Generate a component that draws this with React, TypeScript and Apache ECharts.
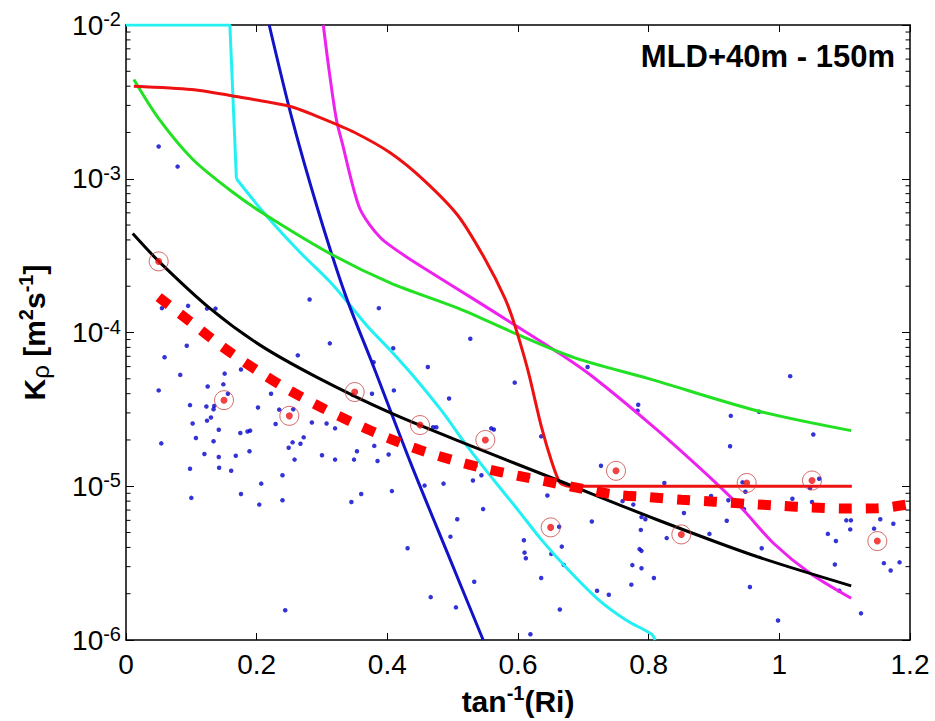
import React, { useEffect, useRef } from "react";
import * as echarts from "echarts";

const FONT = "'Liberation Sans', Arial, sans-serif";

// x tick values and labels (tan^-1(Ri))
const xMin = 0;
const xMax = 1.2;
const xStep = 0.2;
// y decades (log10 K)
const yMinK = 1e-6;
const yMaxK = 1e-2;
const minorMultipliers = [2, 3, 4, 5, 6, 7, 8, 9];
const minorDecades = [1e-6, 1e-5, 1e-4, 1e-3];

// individual observations (blue dots): [tan^-1(Ri), K_rho]
const obsPoints: [number, number][] = [
  [0.050, 1.62e-3], [0.079, 1.20e-3], [0.281, 1.64e-4], [0.387, 1.44e-4], [0.055, 1.44e-4],
  [0.095, 1.49e-4], [0.124, 1.43e-4], [0.137, 1.43e-4], [0.312, 8.5e-5], [0.093, 8.2e-5],
  [0.059, 6.9e-5], [0.263, 7.1e-5], [0.379, 6.4e-5], [0.083, 5.3e-5], [0.151, 5.4e-5],
  [0.176, 5.75e-5],
  [0.050, 4.2e-5], [0.125, 4.45e-5], [0.149, 4.6e-5], [0.156, 4.0e-5], [0.098, 3.37e-5],
  [0.123, 3.3e-5], [0.135, 3.33e-5], [0.134, 3.17e-5], [0.130, 2.8e-5], [0.124, 2.67e-5],
  [0.102, 2.56e-5], [0.142, 2.33e-5], [0.054, 1.9e-5], [0.107, 2.06e-5], [0.134, 1.96e-5],
  [0.175, 2.22e-5], [0.186, 2.27e-5], [0.190, 2.3e-5], [0.189, 1.69e-5], [0.120, 1.62e-5],
  [0.142, 1.55e-5], [0.168, 1.58e-5], [0.098, 1.3e-5], [0.1425, 1.32e-5], [0.161, 1.26e-5],
  [0.100, 8.4e-6], [0.176, 8.9e-6], [0.207, 1.04e-5], [0.204, 7.6e-6], [0.202, 3.25e-5],
  [0.222, 4.0e-5], [0.2345, 3.15e-5], [0.229, 2.54e-5], [0.256, 3.17e-5], [0.255, 1.93e-5],
  [0.249, 1.78e-5], [0.267, 1.89e-5], [0.272, 2.08e-5], [0.258, 1.49e-5], [0.2395, 1.18e-5],
  [0.2395, 8.1e-6], [0.2437, 1.56e-6], [0.2845, 2.6e-5], [0.307, 2.56e-5], [0.320, 2.38e-5],
  [0.300, 1.59e-5], [0.320, 1.49e-5], [0.349, 1.49e-5], [0.3535, 1.69e-5], [0.380, 1.83e-5],
  [0.385, 1.46e-5], [0.402, 1.61e-5], [0.345, 7.9e-6], [0.360, 8.9e-6], [0.3765, 4.0e-5],
  [0.347, 3.93e-5], [0.407, 9.3e-6],
  [0.527, 9.1e-5], [0.409, 7.9e-5], [0.462, 5.96e-5], [0.7065, 5.96e-5],
  [0.595, 4.72e-5], [0.410, 4.2e-5], [0.4945, 3.72e-5], [0.470, 2.42e-5], [0.475, 2.42e-5],
  [0.559, 2.38e-5], [0.563, 2.34e-5], [0.6355, 2.11e-5], [0.784, 3.39e-5], [0.783, 3.1e-5],
  [0.727, 1.36e-5], [0.535, 1.36e-5], [0.544, 1.18e-5], [0.531, 1.09e-5], [0.6156, 1.15e-5],
  [0.645, 8.7e-6], [0.457, 1.01e-5], [0.486, 1.04e-5], [0.760, 8.0e-6], [0.7765, 7.6e-6],
  [0.5466, 7.1e-6], [0.507, 6.1e-6], [0.4966, 4.7e-6], [0.431, 3.95e-6], [0.713, 5.9e-6],
  [0.663, 5.45e-6], [0.609, 4.45e-6], [0.610, 3.7e-6], [0.612, 3.4e-6], [0.667, 4.05e-6],
  [0.651, 3.63e-6], [0.670, 3.08e-6], [0.789, 6.3e-6], [0.795, 6.1e-6], [0.788, 5.2e-6],
  [0.786, 3.9e-6], [0.789, 3.8e-6], [0.775, 3.07e-6], [0.789, 2.93e-6], [0.808, 2.53e-6],
  [0.7735, 2.29e-6], [0.6355, 2.53e-6], [0.721, 2.09e-6], [0.739, 1.97e-6], [0.533, 2.39e-6],
  [0.4664, 1.9e-6], [0.505, 1.63e-6], [0.664, 1.58e-6], [0.619, 1.09e-6],
  [1.0166, 5.2e-5], [0.9257, 2.87e-5], [0.969, 3.05e-5], [1.052, 2.17e-5], [0.9246, 1.82e-5],
  [0.824, 1.05e-5], [0.9436, 1.06e-5], [0.948, 9.2e-6], [1.061, 1.12e-5], [1.047, 9.75e-6],
  [0.8955, 8.65e-6], [0.922, 8.1e-6], [1.020, 8.3e-6], [1.050, 7.9e-6], [0.946, 7.1e-6],
  [0.854, 6.7e-6], [0.9195, 5.96e-6], [1.1025, 6.0e-6], [1.1096, 6.0e-6], [1.1085, 5.24e-6],
  [0.8276, 4.6e-6], [0.893, 4.9e-6], [1.0743, 4.9e-6], [1.0866, 4.4e-6], [0.973, 3.95e-6],
  [1.085, 3.1e-6], [1.1545, 6.1e-6], [1.145, 5.3e-6], [1.1745, 5.7e-6], [1.160, 3.16e-6],
  [1.1704, 2.83e-6], [1.184, 3.2e-6], [0.955, 2.21e-6], [1.0917, 2.09e-6], [1.125, 1.49e-6],
  [0.998, 1.34e-6],
];

// bin-averaged values (circled red points)
const binX = [0.05, 0.15, 0.25, 0.35, 0.45, 0.55, 0.65, 0.75, 0.85, 0.95, 1.05, 1.15];
const binK = [2.9e-4, 3.63e-5, 2.87e-5, 4.1e-5, 2.5e-5, 2.0e-5, 5.4e-6, 1.26e-5, 4.86e-6, 1.05e-5, 1.09e-5, 4.4e-6];

// cyan parameterisation (step part + curve)
const cyanStepX = [0.0, 0.159, 0.169];
const cyanStepK = [1e-2, 1e-2, 1e-3];
const cyanX = [0.169, 0.2146, 0.2656, 0.3167, 0.3678, 0.406, 0.442, 0.483, 0.5236, 0.559, 0.600, 0.636, 0.677, 0.723, 0.764, 0.8046, 0.81];
const cyanK = [1e-3, 5.77e-4, 3.35e-4, 2.04e-4, 1.12e-4, 7.55e-5, 5.08e-5, 3.10e-5, 1.79e-5, 1.15e-5, 7.0e-6, 4.48e-6, 2.86e-6, 1.83e-6, 1.36e-6, 1.09e-6, 1.0e-6];

// blue parameterisation
const blueX = [0.2192, 0.2544, 0.2942, 0.3355, 0.3784, 0.4350, 0.4962, 0.5467];
const blueK = [1e-2, 2.43e-3, 6.19e-4, 1.77e-4, 6.08e-5, 1.44e-5, 3.33e-6, 1.0e-6];

// magenta parameterisation
const magentaX = [0.302, 0.311, 0.322, 0.332, 0.347, 0.358, 0.373, 0.39, 0.406, 0.43, 0.457, 0.534, 0.595, 0.662, 0.713, 0.812, 0.904, 0.945, 0.991, 1.047, 1.110];
const magentaK = [1e-2, 5.01e-3, 2.43e-3, 1.64e-3, 9.02e-4, 6.38e-4, 5.01e-4, 4.12e-4, 3.63e-4, 3.09e-4, 2.61e-4, 1.63e-4, 1.12e-4, 7.38e-5, 5.21e-5, 2.34e-5, 1.04e-5, 7.0e-6, 4.26e-6, 2.72e-6, 1.87e-6];

// green parameterisation
const greenX = [0.012, 0.051, 0.102, 0.1635, 0.215, 0.317, 0.406, 0.508, 0.600, 0.687, 0.80, 0.9655, 1.110];
const greenK = [4.42e-3, 2.43e-3, 1.34e-3, 8.17e-4, 5.77e-4, 3.18e-4, 2.09e-4, 1.44e-4, 9.68e-5, 6.84e-5, 5.01e-5, 3.10e-5, 2.30e-5];

// red (solid) parameterisation
const redX = [0.012, 0.10, 0.166, 0.253, 0.299, 0.35, 0.406, 0.457, 0.508, 0.549, 0.580, 0.595, 0.610, 0.618, 0.636, 0.651, 0.664, 0.677, 1.111];
const redK = [3.99e-3, 3.80e-3, 3.44e-3, 2.94e-3, 2.48e-3, 2.0e-3, 1.46e-3, 9.70e-4, 5.77e-4, 3.03e-4, 1.67e-4, 1.12e-4, 6.84e-5, 5.08e-5, 2.42e-5, 1.47e-5, 1.06e-5, 1.0e-5, 1.0e-5];

// black parameterisation
const blackX = [0.0103, 0.051, 0.128, 0.204, 0.291, 0.405, 0.534, 0.662, 0.812, 0.9655, 1.110];
const blackK = [4.40e-4, 2.88e-4, 1.44e-4, 8.34e-5, 5.15e-5, 3.00e-5, 1.79e-5, 1.09e-5, 6.08e-6, 3.49e-6, 2.25e-6];

// red dashed fit
const fitX = [0.05, 0.10, 0.15, 0.20, 0.25, 0.30, 0.35, 0.40, 0.45, 0.50, 0.55, 0.60, 0.65, 0.70, 0.75, 0.80, 0.85, 0.90, 0.95, 1.00, 1.05, 1.10, 1.15, 1.20];
const fitK = [1.70e-4, 1.16e-4, 7.94e-5, 5.69e-5, 4.21e-5, 3.24e-5, 2.56e-5, 2.07e-5, 1.72e-5, 1.48e-5, 1.30e-5, 1.17e-5, 1.06e-5, 9.6e-6, 8.8e-6, 8.5e-6, 8.17e-6, 7.94e-6, 7.69e-6, 7.46e-6, 7.28e-6, 7.16e-6, 7.18e-6, 7.67e-6];

const annotation = "MLD+40m - 150m";

function pairs(xs: number[], ys: number[]): [number, number][] {
  return xs.map((x, i) => [x, ys[i]]);
}

export default function App() {
  const ref = useRef<HTMLDivElement>(null);

  useEffect(() => {
    document.body.style.margin = "0";
    const chart = echarts.init(ref.current!, null, { renderer: "svg" });

    const minorVals: [number, number][] = [];
    minorDecades.forEach((d) => minorMultipliers.forEach((m) => minorVals.push([0, m * d])));

    const lineBase = (name: string, data: [number, number][], color: string, smooth: number | false = 0.3, z = 3) => ({
      type: "line",
      name,
      data,
      smooth,
      symbol: "none",
      showSymbol: false,
      lineStyle: { color, width: 3 },
      itemStyle: { color },
      z,
      silent: true,
    });

    const axisLineStyle = { show: true, onZero: false, lineStyle: { color: "#000", width: 1.5 } };

    const supRich = {
      b: { fontSize: 28, lineHeight: 32, fontFamily: FONT, color: "#000", verticalAlign: "middle" },
      s: { fontSize: 20, lineHeight: 20, fontFamily: FONT, color: "#000", verticalAlign: "top" },
    };
    const nameRich = {
      b: { fontSize: 30, lineHeight: 36, fontWeight: "bold", fontFamily: FONT, color: "#000", verticalAlign: "middle" },
      s: { fontSize: 20, lineHeight: 20, fontWeight: "bold", fontFamily: FONT, color: "#000", verticalAlign: "top" },
      sub: { fontSize: 24, lineHeight: 24, fontFamily: FONT, color: "#000", verticalAlign: "bottom" },
    };

    const option: any = {
      animation: false,
      backgroundColor: "#fff",
      grid: { left: 126, right: 25, top: 25, bottom: 77, containLabel: false },
      xAxis: [
        {
          type: "value",
          min: xMin,
          max: xMax,
          interval: xStep,
          position: "bottom",
          axisLine: axisLineStyle,
          axisTick: { show: true, inside: true, length: 7, lineStyle: { color: "#000", width: 1 } },
          axisLabel: {
            show: true,
            fontSize: 28,
            fontFamily: FONT,
            color: "#000",
            margin: 10,
            showMinLabel: true,
            showMaxLabel: true,
          },
          splitLine: { show: false },
          name: "{b|tan}{s|-1}{b|(Ri)}",
          nameLocation: "middle",
          nameGap: 43,
          nameTextStyle: { rich: nameRich },
        },
        {
          type: "value",
          min: xMin,
          max: xMax,
          interval: xStep,
          position: "top",
          axisLine: axisLineStyle,
          axisTick: { show: true, inside: true, length: 7, lineStyle: { color: "#000", width: 1 } },
          axisLabel: { show: false },
          splitLine: { show: false },
        },
      ],
      yAxis: [
        {
          type: "log",
          logBase: 10,
          min: yMinK,
          max: yMaxK,
          position: "left",
          axisLine: axisLineStyle,
          axisTick: { show: true, inside: true, length: 8, lineStyle: { color: "#000", width: 1 } },
          axisLabel: {
            show: true,
            margin: 5,
            formatter: (v: number) => `{b|10}{s|${Math.round(Math.log10(v))}}`,
            rich: supRich,
          },
          splitLine: { show: false },
          name: "{b|K}{sub|ρ}{b| [m}{s|2}{b|s}{s|-1}{b|]}",
          nameLocation: "middle",
          nameRotate: 90,
          nameGap: 74,
          nameTextStyle: { rich: nameRich },
        },
        {
          type: "log",
          logBase: 10,
          min: yMinK,
          max: yMaxK,
          position: "right",
          axisLine: axisLineStyle,
          axisTick: { show: true, inside: true, length: 8, lineStyle: { color: "#000", width: 1 } },
          axisLabel: { show: false },
          splitLine: { show: false },
        },
      ],
      graphic: [
        {
          type: "text",
          x: 895,
          y: 56,
          z: 100,
          style: {
            text: annotation,
            fontSize: 31,
            fontWeight: "bold",
            fontFamily: FONT,
            fill: "#000",
            align: "right",
            verticalAlign: "middle",
          },
        },
      ],
      series: [
        {
          type: "scatter",
          name: "obs",
          data: obsPoints,
          symbol: "circle",
          symbolSize: 4.5,
          itemStyle: { color: "#0000cc" },
          z: 2,
          silent: true,
        },
        lineBase("cyanStep", pairs(cyanStepX, cyanStepK), "#22f0f2", false, 3),
        lineBase("cyan", pairs(cyanX, cyanK), "#22f0f2", 0.3, 3),
        lineBase("blue", pairs(blueX, blueK), "#1212c8", 0.3, 3),
        lineBase("magenta", pairs(magentaX, magentaK), "#ee22ee", 0.3, 3),
        lineBase("green", pairs(greenX, greenK), "#22e022", 0.3, 3),
        lineBase("red", pairs(redX, redK), "#ee1111", 0.25, 3),
        lineBase("black", pairs(blackX, blackK), "#000000", 0.3, 3),
        {
          type: "line",
          name: "fit",
          data: pairs(fitX, fitK),
          smooth: 0.3,
          symbol: "none",
          lineStyle: { color: "#ff0000", width: 10, type: [13, 14], cap: "butt" },
          z: 4,
          silent: true,
        },
        {
          type: "scatter",
          name: "binRing",
          data: pairs(binX, binK),
          symbol: "circle",
          symbolSize: 19,
          itemStyle: { color: "rgba(0,0,0,0)", borderColor: "#cc4444", borderWidth: 1 },
          z: 5,
          silent: true,
        },
        {
          type: "scatter",
          name: "binDot",
          data: pairs(binX, binK),
          symbol: "circle",
          symbolSize: 7,
          itemStyle: { color: "#ee1111" },
          z: 6,
          silent: true,
        },
        {
          type: "custom",
          name: "minorTicks",
          data: minorVals,
          clip: false,
          silent: true,
          z: 7,
          renderItem: (_params: any, api: any) => {
            const v = api.value(1);
            const pL = api.coord([xMin, v]);
            const pR = api.coord([xMax, v]);
            return {
              type: "group",
              children: [
                { type: "line", shape: { x1: pL[0], y1: pL[1], x2: pL[0] + 4.5, y2: pL[1] }, style: { stroke: "#000", lineWidth: 1 } },
                { type: "line", shape: { x1: pR[0] - 4.5, y1: pR[1], x2: pR[0], y2: pR[1] }, style: { stroke: "#000", lineWidth: 1 } },
              ],
            };
          },
        },
      ],
    };

    chart.setOption(option);
    return () => chart.dispose();
  }, []);

  return <div ref={ref} style={{ width: 935, height: 721 }} />;
}
